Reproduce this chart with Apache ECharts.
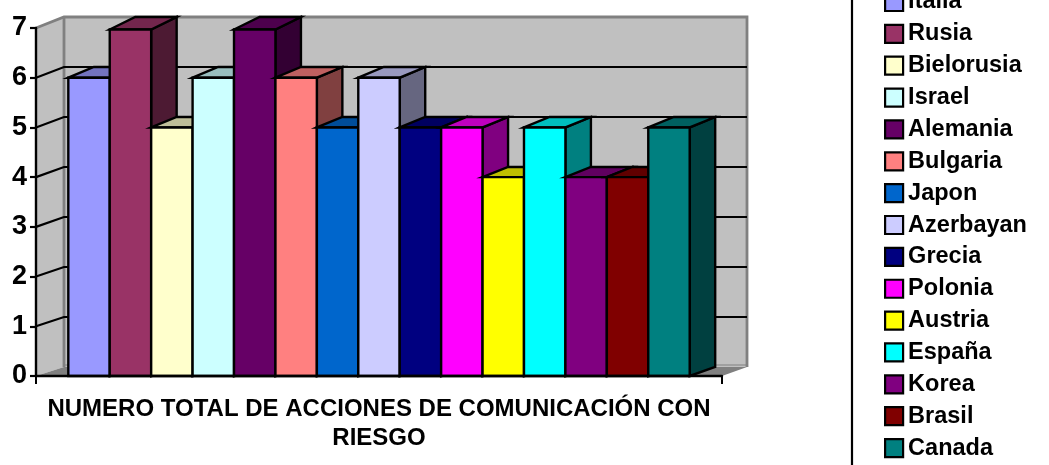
<!DOCTYPE html>
<html>
<head>
<meta charset="utf-8">
<style>html,body{margin:0;padding:0;background:#fff}#c{width:1049px;height:465px}</style>
<script src="https://cdn.jsdelivr.net/npm/echarts@6/dist/echarts.min.js"></script>
</head>
<body>
<div id="c"></div>
<script>
var categoryLabel = 'NUMERO TOTAL DE ACCIONES DE COMUNICACIÓN CON\nRIESGO';
var countries = ['Italia','Rusia','Bielorusia','Israel','Alemania','Bulgaria','Japon','Azerbayan','Grecia','Polonia','Austria','España','Korea','Brasil','Canada'];
var values = [6,7,5,6,7,6,5,6,5,5,4,5,4,4,5];
var colors = ['#9999FF','#993366','#FFFFCC','#CCFFFF','#660066','#FF8080','#0066CC','#CCCCFF','#000080','#FF00FF','#FFFF00','#00FFFF','#800080','#800000','#008080'];
var yTicks = [1,2,3,4,5,6];

function shade(hex, f) {
  var n = parseInt(hex.slice(1), 16);
  var r = Math.round((n >> 16 & 255) * f), g = Math.round((n >> 8 & 255) * f), b = Math.round((n & 255) * f);
  return 'rgb(' + r + ',' + g + ',' + b + ')';
}
// oblique projection of the front plane on to the back wall
function backY(y) { return 17 + (y - 28) * (350 / 348); }
function backX(x) { return 64 + (x - 36) * (683 / 686); }

function renderWalls(params, api) {
  var p0 = api.coord([0, 0]), p7 = api.coord([0, 7]);
  var w = api.size([1, 0])[0];
  var xL = p0[0] - w / 2, xR = p0[0] + w / 2, yB = p0[1], yT = p7[1];
  var bxL = backX(xL), bxR = backX(xR), byB = backY(yB), byT = backY(yT);
  var gray = '#C0C0C0', dark = '#808080';
  var kids = [
    {type:'polygon', shape:{points:[[xL,yT],[bxL,byT],[bxL,byB],[xL,yB]]}, style:{fill:gray, stroke:null}},
    {type:'rect', shape:{x:bxL, y:byT, width:bxR-bxL, height:byB-byT}, style:{fill:gray, stroke:null}},
    {type:'polygon', shape:{points:[[xL,yB],[bxL,byB],[bxR,byB],[xR,yB]]}, style:{fill:dark, stroke:null}},
    {type:'line', shape:{x1:bxL, y1:byB-2, x2:bxR, y2:byB-2}, style:{stroke:'#A0A0A0', lineWidth:2}},
    {type:'polyline', shape:{points:[[xL,yT],[bxL,byT],[bxR,byT],[bxR,byB]]}, style:{fill:null, stroke:dark, lineWidth:2.8}},
    {type:'line', shape:{x1:bxL, y1:byT, x2:bxL, y2:byB}, style:{stroke:dark, lineWidth:2.8}}
  ];
  yTicks.forEach(function (v) {
    var y = api.coord([0, v])[1];
    kids.push({type:'polyline', shape:{points:[[xL,y],[bxL,backY(y)],[bxR,backY(y)]]}, style:{fill:null, stroke:'#000', lineWidth:2.2}});
  });
  return {type:'group', children:kids};
}

function makeRender(idx, color) {
  return function (params, api) {
    var top = api.coord([0, api.value(1)]), base = api.coord([0, 0]);
    var barW = api.size([1, 0])[0] / 16.56;
    var x0 = top[0] + (idx - 7.5) * barW, x1 = x0 + barW;
    var y0 = top[1] + (api.value(1) === 7 ? 1.5 : 0), y1 = base[1];
    var dx = 25.5, byTop = backY(top[1]), byBase = backY(y1);
    var line = {stroke:'#000', lineWidth:2.4, lineJoin:'miter'};
    function st(fill) { return Object.assign({fill:fill}, line); }
    return {type:'group', children:[
      {type:'polygon', shape:{points:[[x1,y0],[x1+dx,byTop],[x1+dx,byBase],[x1,y1]]}, style:st(shade(color,0.5))},
      {type:'polygon', shape:{points:[[x0,y0],[x0+dx,byTop],[x1+dx,byTop],[x1,y0]]}, style:st(shade(color,0.75))},
      {type:'rect', shape:{x:x0, y:y0, width:barW, height:y1-y0}, style:st(color)}
    ]};
  };
}

var series = [{type:'custom', silent:true, data:[[0,0]], encode:{x:0,y:1}, renderItem:renderWalls, z:1}];
countries.forEach(function (name, i) {
  series.push({
    type:'custom', name:name, silent:true, z:2,
    itemStyle:{color:colors[i]},
    data:[[0, values[i]]], encode:{x:0,y:1},
    renderItem:makeRender(i, colors[i])
  });
});

var chart = echarts.init(document.getElementById('c'), null, {renderer:'canvas'});
chart.setOption({
  animation:false,
  backgroundColor:'#fff',
  color:colors,
  grid:{left:36, right:327, top:28, bottom:89},
  xAxis:{
    type:'category', data:[categoryLabel], z:5,
    axisLine:{lineStyle:{color:'#000', width:2.4}},
    axisTick:{show:true, length:8, alignWithLabel:false, lineStyle:{color:'#000', width:2}},
    axisLabel:{interval:0, margin:19, fontFamily:'Liberation Sans', fontWeight:'bold', fontSize:24, color:'#000', lineHeight:29, align:'center'}
  },
  yAxis:{
    type:'value', min:0, max:7, interval:1, z:5,
    splitLine:{show:false},
    axisLine:{show:true, lineStyle:{color:'#000', width:2.4}},
    axisTick:{show:true, length:6, lineStyle:{color:'#000', width:2.2}},
    axisLabel:{margin:9, fontFamily:'Liberation Sans', fontWeight:'bold', fontSize:27, color:'#000', padding:[6,0,0,0]}
  },
  legend:{
    orient:'vertical', left:884, top:-10, height:600, padding:0,
    data:countries, selectedMode:false,
    icon:'rect', itemWidth:18, itemHeight:18, itemGap:7.86,
    itemStyle:{borderColor:'#000', borderWidth:2.2},
    textStyle:{fontFamily:'Liberation Sans', fontWeight:'bold', fontSize:23.5, color:'#000'}
  },
  graphic:[{type:'line', silent:true, shape:{x1:852, y1:0, x2:852, y2:465}, style:{stroke:'#000', lineWidth:2.2}}],
  series:series
});
</script>
</body>
</html>
